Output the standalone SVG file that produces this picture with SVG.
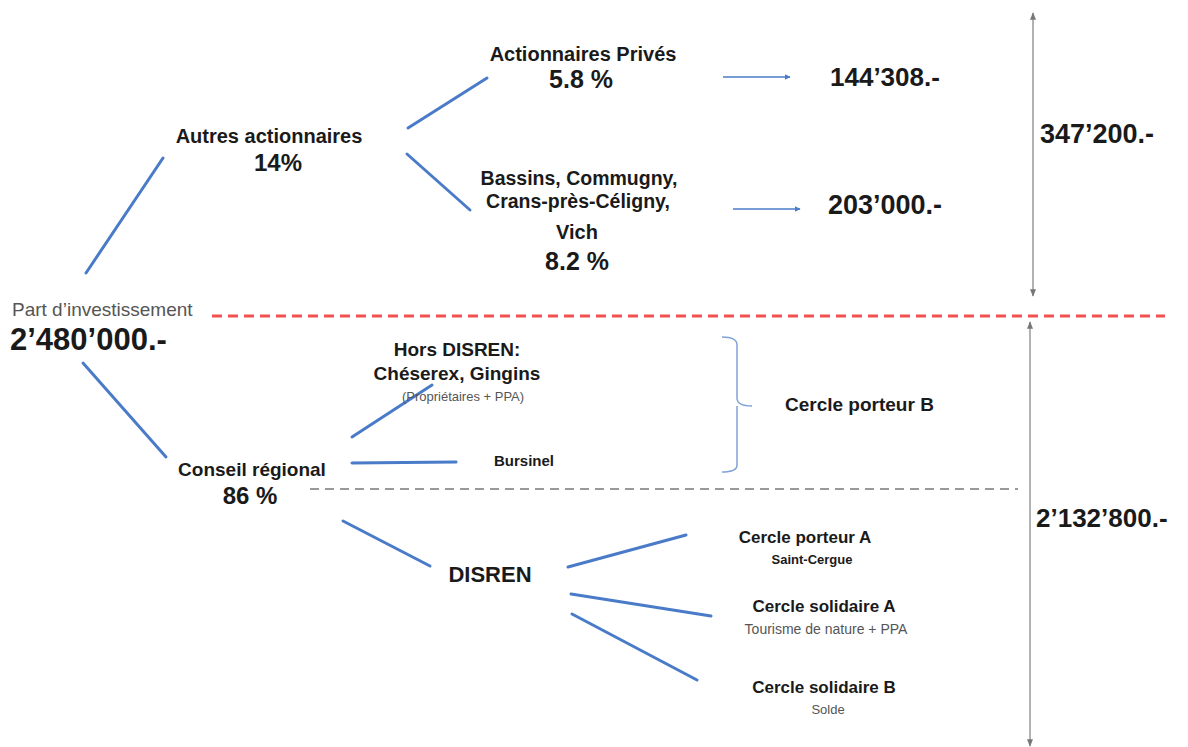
<svg xmlns="http://www.w3.org/2000/svg" width="1188" height="747" viewBox="0 0 1188 747">
<defs>
<marker id="ab" viewBox="0 0 10 10" refX="9" refY="5" markerWidth="4" markerHeight="4" orient="auto"><path d="M0,0 L10,5 L0,10 z" fill="#4a7bc8"/></marker>
<marker id="ag" viewBox="0 0 10 10" refX="9" refY="5" markerWidth="5" markerHeight="5" orient="auto-start-reverse"><path d="M0,1 L10,5 L0,9 z" fill="#777"/></marker>
<style>
.b{font-family:"Liberation Sans",Arial,sans-serif;font-weight:bold;fill:#1a1a1a}
.n{font-family:"Liberation Sans",Arial,sans-serif;fill:#555}
.m{text-anchor:middle}
.l{stroke:#4a7bc8;stroke-width:3;fill:none;stroke-linecap:round}
.a{stroke:#4a7bc8;stroke-width:1.5;fill:none}
.v{stroke:#999;stroke-width:1.5;fill:none}
</style>
</defs>
<g id="connectors">
<line class="l" x1="86" y1="273" x2="163" y2="158"/>
<line class="l" x1="408" y1="128" x2="487" y2="78"/>
<line class="l" x1="407" y1="154" x2="470" y2="210"/>
<line class="l" x1="83" y1="363" x2="166" y2="457"/>
<line class="l" x1="352" y1="437" x2="432" y2="385"/>
<line class="l" x1="352" y1="463" x2="456" y2="462"/>
<line class="l" x1="343" y1="521" x2="430" y2="566"/>
<line class="l" x1="568" y1="567" x2="686" y2="535"/>
<line class="l" x1="571" y1="594" x2="711" y2="616"/>
<line class="l" x1="572" y1="614" x2="697" y2="680"/>
<line class="a" x1="723" y1="77" x2="790" y2="77" marker-end="url(#ab)"/>
<line class="a" x1="733" y1="209" x2="800" y2="209" marker-end="url(#ab)"/>
<line class="v" x1="1033" y1="13" x2="1033" y2="296" marker-start="url(#ag)" marker-end="url(#ag)"/>
<line class="v" x1="1030" y1="322" x2="1030" y2="746" marker-start="url(#ag)" marker-end="url(#ag)"/>
<line x1="212" y1="316" x2="1165" y2="316" stroke="#f05050" stroke-width="3" stroke-dasharray="10 6"/>
<line x1="310" y1="489" x2="1018" y2="489" stroke="#999" stroke-width="2" stroke-dasharray="9 6"/>
<path d="M722,337 Q737,337 737,345 L737,398 Q737,406 752,406 M737,406 Q737,414 737,420 L737,465 Q737,472 722,472" stroke="#7fa3d6" stroke-width="1.5" fill="none"/>
</g>
<g id="root"><text class="n" x="12" y="316" font-size="19">Part d’investissement</text><text class="b" x="10" y="350" font-size="31">2’480’000.-</text></g>
<g id="autres"><text class="b m" x="269" y="143" font-size="20">Autres actionnaires</text><text class="b m" x="278" y="171" font-size="24">14%</text></g>
<g id="prives"><text class="b m" x="583" y="61" font-size="20">Actionnaires Privés</text><text class="b m" x="581" y="88" font-size="25">5.8 %</text></g>
<g id="v144"><text class="b" x="830" y="86" font-size="26">144’308.-</text></g>
<g id="communes"><text class="b m" x="579" y="185" font-size="19.5">Bassins, Commugny,</text><text class="b m" x="578" y="208" font-size="19.5">Crans-près-Céligny,</text><text class="b m" x="577" y="239" font-size="20">Vich</text><text class="b m" x="577" y="270" font-size="25">8.2 %</text></g>
<g id="v203"><text class="b" x="828" y="214" font-size="27">203’000.-</text></g>
<g id="v347"><text class="b" x="1040" y="143" font-size="27">347’200.-</text></g>
<g id="hors"><text class="b m" x="457" y="356" font-size="19">Hors DISREN:</text><text class="b m" x="457" y="380" font-size="19">Chéserex, Gingins</text><text class="n m" x="463" y="401" font-size="13">(Propriétaires + PPA)</text></g>
<g id="bursinel"><text class="b m" x="524" y="466" font-size="15">Bursinel</text></g>
<g id="cpb"><text class="b" x="785" y="411" font-size="19">Cercle porteur B</text></g>
<g id="conseil"><text class="b m" x="252" y="476" font-size="19">Conseil régional</text><text class="b m" x="250" y="504" font-size="24">86 %</text></g>
<g id="v2132"><text class="b" x="1036" y="527" font-size="26">2’132’800.-</text></g>
<g id="disren"><text class="b m" x="490" y="582" font-size="22">DISREN</text></g>
<g id="cpa"><text class="b m" x="805" y="543" font-size="17">Cercle porteur A</text><text class="b m" x="812" y="564" font-size="13">Saint-Cergue</text></g>
<g id="csa"><text class="b m" x="824" y="612" font-size="17">Cercle solidaire A</text><text class="n m" x="826" y="634" font-size="14">Tourisme de nature + PPA</text></g>
<g id="csb"><text class="b m" x="824" y="693" font-size="17">Cercle solidaire B</text><text class="n m" x="828" y="714" font-size="13">Solde</text></g>
</svg>
